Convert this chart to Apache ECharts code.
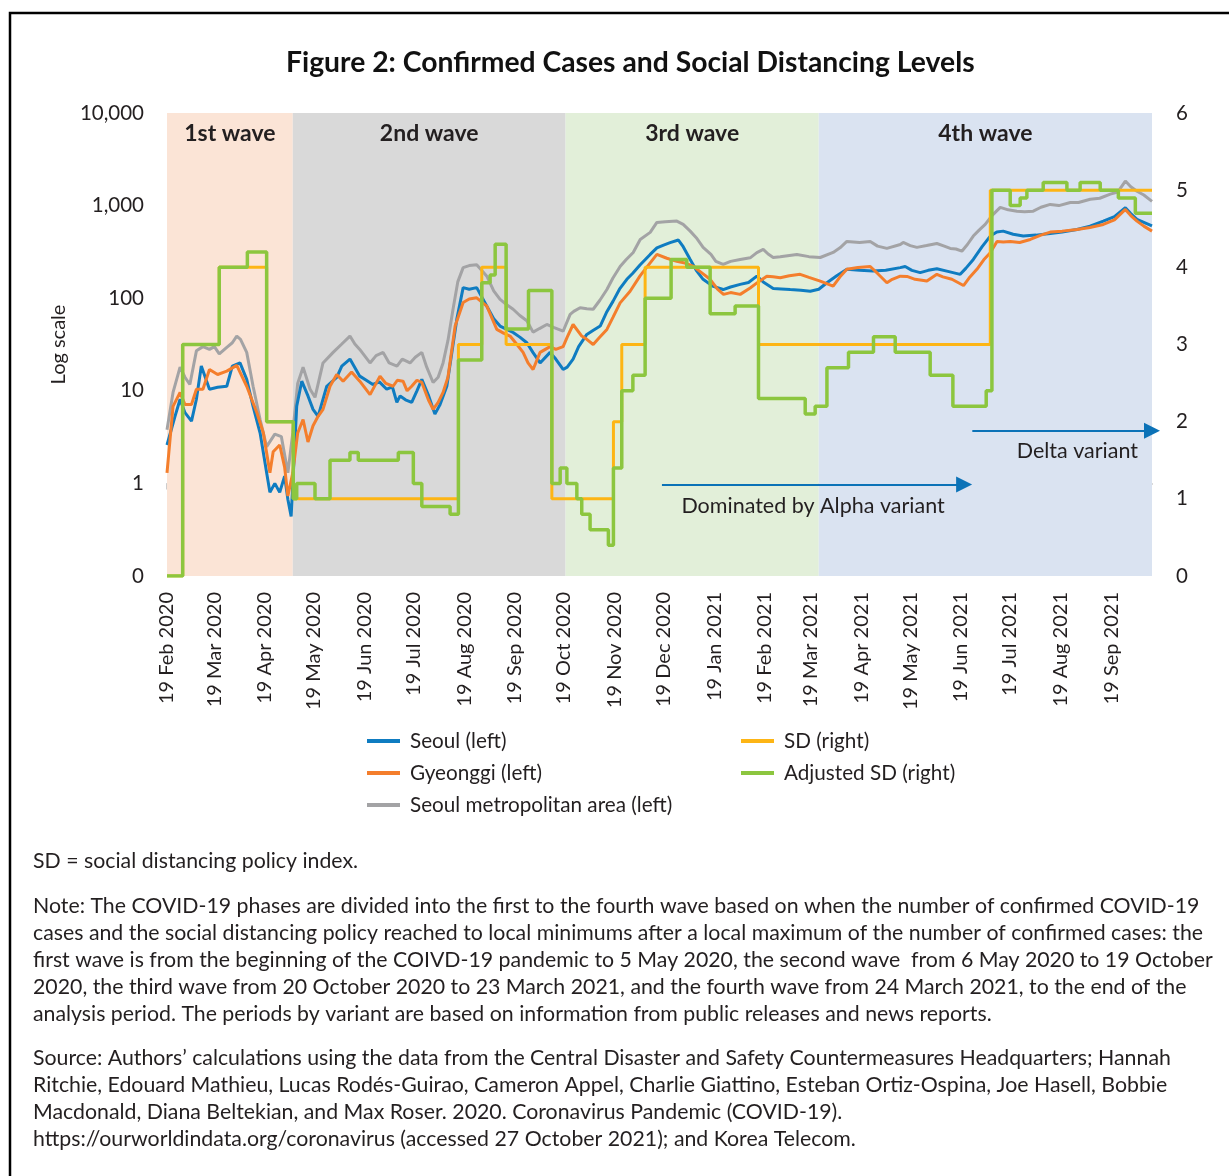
<!DOCTYPE html>
<html>
<head>
<meta charset="utf-8">
<script src="https://cdn.jsdelivr.net/npm/echarts@6/dist/echarts.min.js"></script>
<style>
  html, body { margin: 0; background: #fff; }
  #chart { width: 1229px; height: 1176px; }
</style>
</head>
<body>
<div id="chart"></div>
<script>
// x values are days counted from 19 Feb 2020
const START = Date.UTC(2020, 1, 19);
const LAST_DAY = 603;
const MONTHS = ['Jan', 'Feb', 'Mar', 'Apr', 'May', 'Jun', 'Jul', 'Aug', 'Sep', 'Oct', 'Nov', 'Dec'];

const waveNames = ['1st wave', '2nd wave', '3rd wave', '4th wave'];
const waveStarts = [0, 77, 244, 399];
const waveColors = ['#fbe4d6', '#d9d9d9', '#e2efd9', '#dae3f1'];

const tickCount = 20; // 19 Feb 2020 ... 19 Sep 2021

// [day, confirmed cases]
const seoul = [[0,2.6],[4.9,5.3],[8,8.1],[11,5.8],[15,4.7],[18,8.1],[21,18.5],[26,10.4],[31,10.9],[36.6,11.2],[40,18.5],[44.7,20],[48.8,13.3],[52.7,6.8],[57,3.5],[61,1.3],[63,0.8],[66,1.0],[69,0.8],[72,1.2],[74,0.67],[76,0.44],[79.4,6.8],[82.5,12.7],[86.3,8.8],[89.4,6.3],[92.5,5.3],[97.8,11.2],[103.9,14],[107,18.5],[112,22],[118,14.4],[122,13],[126,11.7],[130,12.5],[134.5,10.4],[138,11],[140.7,7.5],[142.7,8.8],[146,8],[149.8,7.5],[153,10],[156,13.3],[160,9],[164,5.6],[167,7],[171.3,11.2],[177.4,59],[181.3,130],[185,125],[189.6,130],[195.8,82],[200,60],[203.9,50],[208,46],[211.9,42.6],[216,38],[220.3,33],[224,26],[228.4,20],[234.5,26],[238,22],[242.5,17],[245,18],[248.6,22],[252,30],[257,40.6],[261,45],[265.2,50],[269,70],[273.1,93],[277,125],[281.5,160],[285,185],[289.7,230],[295.8,297],[299.9,350],[304,375],[308,398],[313.1,425],[316,360],[320.3,262],[324,200],[328.2,160],[334,135],[340.5,124],[345,132],[350.9,141],[356,148],[361.1,173],[365,150],[371.1,127],[376,126],[381.5,124],[388,122],[393.8,119],[399,125],[404,147],[410,175],[416.2,205],[424,200],[432.3,197],[440,200],[448.9,214],[451.9,220],[456,200],[461.1,189],[466,200],[471.3,208],[478,195],[485.6,181],[489,210],[493.6,262],[499,360],[504,469],[508,520],[511.9,530],[518,490],[524.2,469],[532,480],[540.7,500],[548,520],[557.1,552],[565,600],[573.2,680],[580,760],[586.7,950],[590,820],[593.8,710],[598,660],[603,604]];

const gyeonggi = [[0,1.3],[3.7,6.8],[8,9.6],[11,7.1],[15,7.1],[18,10.4],[22,10.4],[26,17],[31,15],[36.6,16.3],[42.7,18.8],[48.8,11.2],[55,5.8],[59,3.5],[63,1.3],[65,2.2],[69,2.6],[72,1.5],[74,0.73],[77,1.3],[80,3.5],[83.3,4.9],[86.3,2.8],[89.4,4.2],[92.5,5.3],[95.5,6.3],[99.8,11.2],[103.9,15],[107.8,12.7],[113,16],[118,12.7],[124.3,9.1],[130.4,14.4],[134,12],[138.4,11.2],[141,13],[144.5,12.7],[147,10],[149.8,11.2],[153,13],[156,12.3],[160,8],[162.9,6.3],[166,7.5],[169,9.6],[172,14],[176.4,50],[181.3,90],[185,98],[189.6,101],[195.8,82],[201.9,46],[206,42],[210,39],[214,32],[218,26],[221,20],[224.1,17],[228.4,26],[234.5,30],[238,28],[242.5,30],[245,38],[248.6,52],[253.9,39],[257,36],[260.9,31.6],[265,38],[269.3,46],[273,62],[277.4,89],[283.5,119],[289.7,175],[295.8,241],[299.9,297],[306,270],[312.1,250],[317,240],[322.3,220],[327,190],[332.5,160],[337,125],[340.7,110],[345,115],[350.9,110],[357,129],[362,150],[367.2,173],[371,170],[375.4,166],[381,175],[387.6,181],[393,168],[399.9,153],[407.8,135],[412,170],[416.2,205],[423,215],[430.5,220],[435,185],[440.7,147],[444,160],[448.9,173],[453,172],[458,160],[465.2,153],[471.3,181],[475,170],[480.5,160],[487.6,137],[491,165],[495.8,205],[500,260],[504,310],[508.1,410],[512,405],[516.2,410],[522,400],[528.5,431],[535,480],[540.7,518],[548,530],[557.1,552],[565,580],[573.2,626],[580,700],[586.7,910],[590,780],[593.8,680],[598,600],[603,530]];

const metro = [[0,3.8],[3.7,9.6],[8,18],[11,14],[14,11.7],[18,27],[22,30],[26,28],[29,30],[32,25],[36.6,29.5],[40,33],[42.7,39],[45,36],[48.8,26],[52.7,11.2],[57,4.9],[61,2.5],[66,3.4],[70,3.2],[74,1.3],[77,3.5],[80,12],[83.3,18],[87.6,10.4],[90.6,8.5],[95.5,20],[101.7,26],[107,32],[112,39],[115,32],[118,28],[124.3,20],[128,24],[132.3,26],[136,20],[140.8,18.5],[144,22],[148.8,20],[152,23],[156,26],[159,18],[162.9,12.3],[166,14],[169,20],[172,35],[175.1,76],[178,150],[181.3,214],[185,225],[189.6,230],[195.8,173],[200,120],[203.9,97],[208,85],[211.9,76],[216,65],[220.3,57],[224.1,43],[228,47],[232.5,52],[237,48],[242.5,44],[246.8,67],[249,72],[252.9,79],[257,77],[260.9,76],[265,95],[269.3,124],[273,165],[277.4,220],[281,260],[285.4,312],[289.7,431],[295.8,514],[299.9,658],[305,670],[312.1,680],[316,626],[320.3,530],[324,450],[328.2,354],[333,297],[336,250],[340.5,232],[345,250],[350.9,262],[357,273],[361.1,311],[365,337],[368,300],[371.1,275],[375.4,281],[385.6,297],[393,281],[399.9,275],[407.8,312],[412,350],[416.2,410],[424,400],[430.5,410],[435,365],[440.7,345],[448.9,380],[450.7,400],[455,370],[459.1,354],[465,370],[471.3,390],[475,370],[479.5,345],[483,340],[486.6,322],[490,380],[493.6,469],[497,540],[500.9,626],[505,780],[510.1,958],[515,900],[520.3,870],[525,860],[530.3,870],[535,960],[540.7,1030],[546,1000],[553,1080],[558,1080],[565.2,1170],[571,1200],[577.5,1330],[582,1400],[586.7,1840],[590,1600],[593.8,1430],[598,1300],[603,1110]];

// [day the level starts, level]
const sdLevel = [[0,0],[9.6,3],[32,4],[61,2],[77.3,1],[178.4,3],[192.7,4],[207.6,3],[235.6,1],[273.3,2],[278.4,3],[292.7,4],[362.1,3],[504,5],[603,5]];

const adjustedSd = [[0,0],[9.6,3.0],[32,4.0],[49.2,4.2],[61,2.0],[77.3,1.0],[79.4,1.2],[90.6,1.0],[99.8,1.5],[112,1.6],[117.1,1.5],[141.6,1.6],[150.8,1.2],[156,0.9],[173.3,0.8],[178.4,2.8],[192.7,3.8],[197.8,3.9],[200.9,4.3],[207.6,3.2],[221.3,3.7],[235.6,1.2],[240.7,1.4],[244.8,1.2],[250.9,1.0],[253.9,0.8],[259,0.6],[270.2,0.4],[273.3,1.4],[278.4,2.4],[285.2,2.6],[292.7,3.6],[308.6,4.1],[318.2,4.0],[332.5,3.4],[347.8,3.5],[362.1,2.3],[390.7,2.1],[396.8,2.2],[404,2.7],[417.2,2.9],[432.5,3.1],[445.8,2.9],[467.2,2.6],[481.1,2.2],[501.5,2.4],[505,5.0],[516.2,4.8],[522.3,4.9],[526.4,5.0],[536.4,5.1],[550.9,5.0],[559,5.1],[571.3,5.0],[582.4,4.9],[592.8,4.7],[603,4.7]];

// variant periods: [from day, to day, level on left axis]
const alphaArrow = [303, 488, 0.97];
const deltaArrow = [493, 603, 3.7];

const noteLines = [
  'Note: The COVID-19 phases are divided into the first to the fourth wave based on when the number of confirmed COVID-19',
  'cases and the social distancing policy reached to local minimums after a local maximum of the number of confirmed cases: the',
  'first wave is from the beginning of the COIVD-19 pandemic to 5 May 2020, the second wave  from 6 May 2020 to 19 October',
  '2020, the third wave from 20 October 2020 to 23 March 2021, and the fourth wave from 24 March 2021, to the end of the',
  'analysis period. The periods by variant are based on information from public releases and news reports.'
];
const sourceLines = [
  'Source: Authors\u2019 calculations using the data from the Central Disaster and Safety Countermeasures Headquarters; Hannah',
  'Ritchie, Edouard Mathieu, Lucas Rod\u00e9s-Guirao, Cameron Appel, Charlie Giattino, Esteban Ortiz-Ospina, Joe Hasell, Bobbie',
  'Macdonald, Diana Beltekian, and Max Roser. 2020. Coronavirus Pandemic (COVID-19).',
  'https://ourworldindata.org/coronavirus (accessed 27 October 2021); and Korea Telecom.'
];

const FONT = 'Lato, "Open Sans", sans-serif';
const INK = '#231f20';
const DAY_MS = 86400000;
const NOTE_FONT = '21.3px ' + FONT;

// tick positions: the 19th of each month, as day offsets
const monthTicks = [];
for (let i = 0; i < tickCount; i++) monthTicks.push(Math.round((Date.UTC(2020, 1 + i, 19) - START) / DAY_MS));

function dateLabel(d) {
  const dt = new Date(START + d * DAY_MS);
  return dt.getUTCDate() + ' ' + MONTHS[dt.getUTCMonth()] + ' ' + dt.getUTCFullYear();
}

const waveAreas = waveNames.map((name, i) => [
  { name: name, xAxis: waveStarts[i], itemStyle: { color: waveColors[i] } },
  { xAxis: i < waveStarts.length - 1 ? waveStarts[i + 1] : LAST_DAY }
]);

const arrowLabel = {
  show: true,
  color: INK,
  fontSize: 21.5,
  fontFamily: FONT
};

const legendText = { fontSize: 20.7, color: INK, fontFamily: FONT, lineHeight: 24, padding: [0, 0, 0, 5] };

const chart = echarts.init(document.getElementById('chart'));

const lineBase = {
  type: 'line',
  showSymbol: false,
  symbol: 'none',
  animation: false,
  silent: true
};

chart.setOption({
  animation: false,
  backgroundColor: '#fff',
  textStyle: { fontFamily: FONT, color: INK },
  title: {
    text: 'Figure 2: Confirmed Cases and Social Distancing Levels',
    left: 281,
    top: 44,
    textStyle: { fontSize: 28.3, fontWeight: 'bold', color: '#111', fontFamily: FONT }
  },
  legend: [
    {
      data: ['Seoul (left)', 'Gyeonggi (left)', 'Seoul metropolitan area (left)'],
      orient: 'vertical',
      left: 362,
      top: 724,
      icon: 'rect',
      itemWidth: 33,
      itemHeight: 4,
      itemGap: 8,
      textStyle: legendText
    },
    {
      data: ['SD (right)', 'Adjusted SD (right)'],
      orient: 'vertical',
      left: 736,
      top: 724,
      icon: 'rect',
      itemWidth: 33,
      itemHeight: 4,
      itemGap: 8,
      textStyle: legendText
    }
  ],
  grid: { left: 167, right: 77, top: 113, bottom: 600 },
  xAxis: [
    {
      type: 'value',
      min: 0,
      max: LAST_DAY,
      axisLine: { show: false },
      axisTick: { show: false },
      splitLine: { show: false },
      axisLabel: {
        customValues: monthTicks,
        formatter: dateLabel,
        rotate: 90,
        margin: 16,
        fontSize: 20,
        color: INK,
        fontFamily: FONT
      }
    },
    {
      // horizontal axis crossing the left axis at 1
      type: 'value',
      position: 'top',
      offset: -370.4,
      min: 0,
      max: LAST_DAY,
      axisLine: { show: true, onZero: false, lineStyle: { color: '#cdcdcd', width: 2 } },
      axisTick: { show: true, inside: true, customValues: monthTicks, length: 6, lineStyle: { color: '#cdcdcd', width: 2 } },
      axisLabel: { show: false },
      splitLine: { show: false }
    }
  ],
  yAxis: [
    {
      type: 'log',
      logBase: 10,
      min: 0.1,
      max: 10000,
      name: 'Log scale',
      nameLocation: 'middle',
      nameGap: 84,
      nameTextStyle: { fontSize: 20, color: INK, fontFamily: FONT },
      axisLine: { show: false },
      axisTick: { show: false },
      splitLine: { show: false },
      axisLabel: {
        margin: 23,
        fontSize: 20.5,
        color: INK,
        fontFamily: FONT,
        formatter: v => (v < 1 ? '0' : Math.round(v).toLocaleString('en-US'))
      }
    },
    {
      type: 'value',
      position: 'right',
      min: 0,
      max: 6,
      interval: 1,
      axisLine: { show: false },
      axisTick: { show: false },
      splitLine: { show: false },
      axisLabel: { margin: 24, fontSize: 20.5, color: INK, fontFamily: FONT }
    }
  ],
  series: [
    Object.assign({}, lineBase, {
      name: 'Seoul metropolitan area (left)',
      yAxisIndex: 0,
      data: metro,
      lineStyle: { color: '#a3a3a5', width: 3 },
      itemStyle: { color: '#a3a3a5' },
      markArea: {
        silent: true,
        label: {
          show: true,
          position: 'insideTop',
          distance: 9,
          fontSize: 23,
          fontWeight: 'bold',
          color: INK,
          fontFamily: FONT
        },
        data: waveAreas
      },
      markLine: {
        silent: true,
        symbol: ['none', 'triangle'],
        symbolSize: [16, 16],
        lineStyle: { color: '#0b72b7', width: 2, type: 'solid' },
        data: [
          [
            { coord: [alphaArrow[0], alphaArrow[2]] },
            {
              coord: [alphaArrow[1], alphaArrow[2]],
              label: Object.assign({}, arrowLabel, { formatter: 'Dominated by Alpha variant', position: 'insideMiddleBottom', distance: 10 })
            }
          ],
          [
            { coord: [deltaArrow[0], deltaArrow[2]] },
            {
              coord: [deltaArrow[1], deltaArrow[2]],
              label: Object.assign({}, arrowLabel, { formatter: 'Delta variant', position: 'insideEndBottom', distance: [14, 9] })
            }
          ]
        ]
      }
    }),
    Object.assign({}, lineBase, {
      name: 'Seoul (left)',
      yAxisIndex: 0,
      data: seoul,
      lineStyle: { color: '#0f7cc1', width: 3 },
      itemStyle: { color: '#0f7cc1' }
    }),
    Object.assign({}, lineBase, {
      name: 'Gyeonggi (left)',
      yAxisIndex: 0,
      data: gyeonggi,
      lineStyle: { color: '#f47e2c', width: 3 },
      itemStyle: { color: '#f47e2c' }
    }),
    Object.assign({}, lineBase, {
      name: 'SD (right)',
      yAxisIndex: 1,
      step: 'end',
      data: sdLevel,
      lineStyle: { color: '#fdb515', width: 3 },
      itemStyle: { color: '#fdb515' }
    }),
    Object.assign({}, lineBase, {
      name: 'Adjusted SD (right)',
      yAxisIndex: 1,
      step: 'end',
      data: adjustedSd,
      lineStyle: { color: '#8cc63f', width: 3.5 },
      itemStyle: { color: '#8cc63f' }
    })
  ],
  graphic: [
    {
      type: 'rect',
      silent: true,
      shape: { x: 10, y: 13, width: 1240, height: 1200 },
      style: { fill: 'none', stroke: '#000', lineWidth: 2.5 }
    },
    {
      type: 'text',
      x: 33, y: 851,
      style: { text: 'SD = social distancing policy index.', font: NOTE_FONT, fill: INK }
    },
    {
      type: 'text',
      x: 33, y: 893,
      style: { text: noteLines.join('\n'), font: NOTE_FONT, fill: INK, lineHeight: 27 }
    },
    {
      type: 'text',
      x: 33, y: 1045,
      style: { text: sourceLines.join('\n'), font: NOTE_FONT, fill: INK, lineHeight: 27 }
    }
  ]
});
</script>
</body>
</html>
